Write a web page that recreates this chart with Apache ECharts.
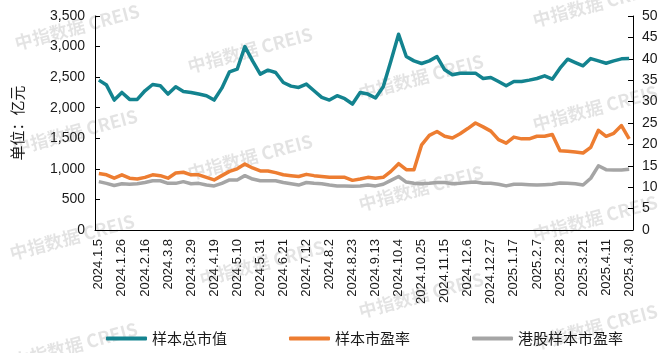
<!DOCTYPE html>
<html>
<head>
<meta charset="utf-8">
<script src="https://cdn.jsdelivr.net/npm/echarts@6/dist/echarts.min.js"></script>
<style>
  html, body { margin: 0; padding: 0; background: #fff; }
  #chart { width: 672px; height: 353px; }
</style>
</head>
<body>
<div id="chart"></div>
<script>
// weekly dates
const dates = [
  '2024.1.5', '2024.1.12', '2024.1.19', '2024.1.26', '2024.2.2', '2024.2.9', '2024.2.16', '2024.2.23',
  '2024.3.1', '2024.3.8', '2024.3.15', '2024.3.22', '2024.3.29', '2024.4.5', '2024.4.12', '2024.4.19',
  '2024.4.26', '2024.5.3', '2024.5.10', '2024.5.17', '2024.5.24', '2024.5.31', '2024.6.7', '2024.6.14',
  '2024.6.21', '2024.6.28', '2024.7.5', '2024.7.12', '2024.7.19', '2024.7.26', '2024.8.2', '2024.8.9',
  '2024.8.16', '2024.8.23', '2024.8.30', '2024.9.6', '2024.9.13', '2024.9.20', '2024.9.27', '2024.10.4',
  '2024.10.11', '2024.10.18', '2024.10.25', '2024.11.1', '2024.11.8', '2024.11.15', '2024.11.22', '2024.11.29',
  '2024.12.6', '2024.12.13', '2024.12.20', '2024.12.27', '2025.1.3', '2025.1.10', '2025.1.17', '2025.1.24',
  '2025.1.31', '2025.2.7', '2025.2.14', '2025.2.21', '2025.2.28', '2025.3.7', '2025.3.14', '2025.3.21',
  '2025.3.28', '2025.4.4', '2025.4.11', '2025.4.18', '2025.4.25', '2025.4.30'
]

// 样本总市值 (亿元, left axis)
const marketCap = [
  2451, 2370, 2125, 2250, 2136, 2136, 2277, 2380, 2359, 2223,
  2342, 2266, 2250, 2223, 2196, 2125, 2320, 2587, 2630, 3000,
  2766, 2549, 2614, 2576, 2413, 2353, 2331, 2386, 2277, 2168,
  2125, 2196, 2147, 2060, 2250, 2223, 2158, 2342, 2766, 3201,
  2837, 2766, 2723, 2766, 2837, 2620, 2538, 2565, 2565, 2565,
  2478, 2495, 2429, 2359, 2429, 2429, 2451, 2478, 2522, 2467,
  2647, 2793, 2739, 2685, 2804, 2766, 2728, 2766, 2799, 2804
]

// 样本市盈率 (right axis)
const peSample = [
  13.2, 12.9, 12.1, 12.9, 12.1, 11.9, 12.3, 12.9, 12.7, 12.1,
  13.3, 13.5, 12.9, 12.9, 12.3, 11.7, 12.7, 13.7, 14.3, 15.4,
  14.5, 13.8, 13.8, 13.4, 12.9, 12.7, 12.5, 13.0, 12.7, 12.5,
  12.3, 12.3, 12.3, 11.6, 11.9, 12.3, 12.1, 12.3, 13.7, 15.5,
  14.1, 14.1, 19.9, 22.1, 23.0, 21.9, 21.5, 22.5, 23.7, 25.0,
  24.1, 23.1, 21.1, 20.3, 21.7, 21.3, 21.3, 21.9, 21.9, 22.3,
  18.5, 18.4, 18.2, 18.0, 19.3, 23.3, 21.9, 22.6, 24.4, 21.3
]

// 港股样本市盈率 (right axis)
const peHK = [
  11.3, 10.9, 10.4, 10.8, 10.7, 10.8, 11.1, 11.5, 11.5, 10.9,
  10.9, 11.3, 10.8, 10.9, 10.5, 10.3, 10.9, 11.7, 11.7, 12.7,
  11.9, 11.5, 11.5, 11.5, 11.1, 10.8, 10.5, 11.1, 10.9, 10.8,
  10.5, 10.3, 10.3, 10.2, 10.3, 10.5, 10.3, 10.7, 11.6, 12.5,
  11.2, 10.9, 10.8, 10.9, 11.1, 11.1, 10.8, 10.9, 11.1, 11.2,
  10.9, 10.9, 10.7, 10.3, 10.7, 10.7, 10.6, 10.5, 10.6, 10.7,
  11.0, 10.9, 10.8, 10.5, 12.1, 15.0, 14.1, 14.0, 14.0, 14.2
]

const seriesNames = ['样本总市值', '样本市盈率', '港股样本市盈率']
const colors = ['#13838F', '#ED7D31', '#A5A5A5']

// watermark centres
const marks = [
  [77, 27], [75, 132], [72, 237], [75, 345],
  [250, 50], [250, 157], [262, 263],
  [421, 77], [421, 188], [421, 295],
  [595, 4], [595, 108], [595, 218], [595, 327]
]

const font = "'Liberation Sans', 'Noto Sans CJK SC', sans-serif"
const cjk = "'Noto Sans CJK SC', sans-serif"

const chart = echarts.init(document.getElementById('chart'))

chart.setOption({
  backgroundColor: '#fff',
  animation: false,
  graphic: marks.map(([x, y]) => ({
    type: 'text',
    x: x,
    y: y,
    rotation: Math.PI / 12,
    z: -10,
    style: {
      text: '中指数据 CREIS',
      fill: 'rgba(0,0,0,0.11)',
      font: 'bold 18px ' + cjk,
      align: 'center',
      verticalAlign: 'middle'
    }
  })),
  legend: {
    left: 101,
    top: 326,
    itemWidth: 41,
    itemHeight: 4,
    itemGap: 62,
    icon: 'roundRect',
    textStyle: { fontFamily: cjk, fontSize: 15, color: '#1a1a1a' },
    data: seriesNames
  },
  grid: { left: 95, right: 39, top: 16, bottom: 123 },
  xAxis: {
    type: 'category',
    data: dates,
    boundaryGap: true,
    axisLine: { lineStyle: { color: '#000', width: 1 } },
    axisTick: { inside: true, length: 5, interval: 0, lineStyle: { color: '#000' } },
    axisLabel: {
      interval: 2,
      rotate: 90,
      margin: 9,
      fontFamily: font,
      fontSize: 13,
      color: '#1a1a1a'
    },
    splitLine: { show: false }
  },
  yAxis: [
    {
      type: 'value',
      min: 0,
      max: 3500,
      interval: 500,
      name: '单位：亿元',
      nameLocation: 'middle',
      nameGap: 70,
      nameRotate: 90,
      nameTextStyle: { fontFamily: cjk, fontSize: 15, color: '#1a1a1a' },
      axisLine: { show: true, lineStyle: { color: '#000' } },
      axisTick: { show: true, inside: true, length: 5, lineStyle: { color: '#000' } },
      axisLabel: {
        fontFamily: font,
        fontSize: 14,
        color: '#1a1a1a',
        margin: 10,
        formatter: v => v.toLocaleString('en-US')
      },
      splitLine: { show: false }
    },
    {
      type: 'value',
      min: 0,
      max: 50,
      interval: 5,
      position: 'right',
      axisLine: { show: true, lineStyle: { color: '#000' } },
      axisTick: { show: true, inside: true, length: 5, lineStyle: { color: '#000' } },
      axisLabel: { fontFamily: font, fontSize: 14, color: '#1a1a1a', margin: 9 },
      splitLine: { show: false }
    }
  ],
  series: [
    {
      name: seriesNames[0],
      type: 'line',
      yAxisIndex: 0,
      data: marketCap,
      symbol: 'none',
      color: colors[0],
      lineStyle: { width: 3.5, color: colors[0], join: 'round' }
    },
    {
      name: seriesNames[1],
      type: 'line',
      yAxisIndex: 1,
      data: peSample,
      symbol: 'none',
      color: colors[1],
      lineStyle: { width: 3.5, color: colors[1], join: 'round' }
    },
    {
      name: seriesNames[2],
      type: 'line',
      yAxisIndex: 1,
      data: peHK,
      symbol: 'none',
      color: colors[2],
      lineStyle: { width: 3.5, color: colors[2], join: 'round' }
    }
  ]
})
</script>
</body>
</html>
